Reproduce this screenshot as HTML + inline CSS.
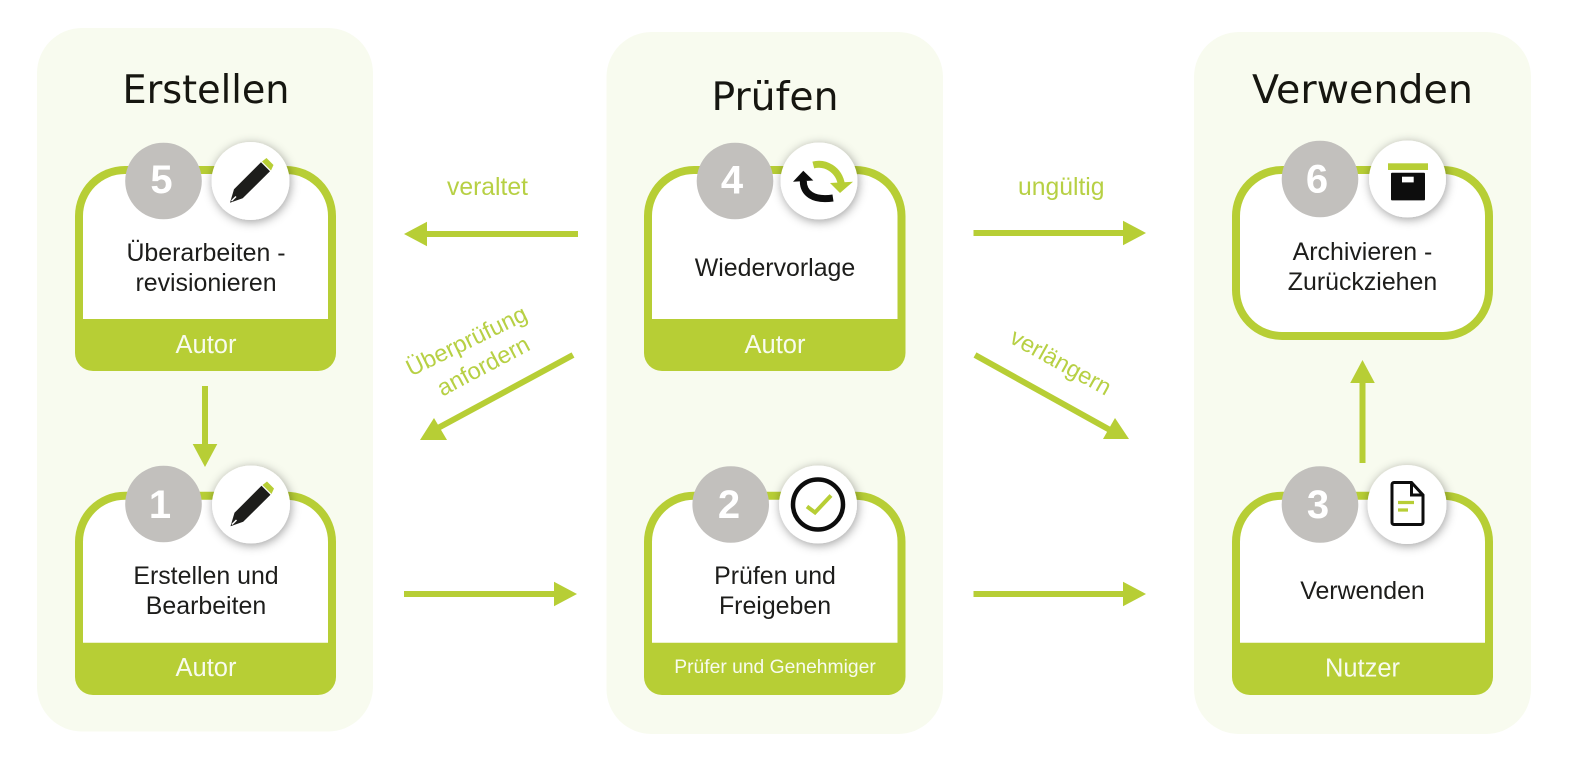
<!DOCTYPE html>
<html><head><meta charset="utf-8"><style>
html,body{margin:0;padding:0;background:#fff;width:1575px;height:763px;overflow:hidden}
svg{display:block}
text{font-family:"Liberation Sans",sans-serif}
.t{font-size:24.9px;fill:#1d1d1b;text-anchor:middle}
.f{font-size:25.5px;fill:#f8fbef;text-anchor:middle}
.g{font-size:24.7px;fill:#b7d044;text-anchor:middle}
.r{font-size:23.6px;fill:#b7d044;text-anchor:middle}
.h{font-family:"DejaVu Sans",sans-serif;font-size:39px;fill:#161610;text-anchor:start}
.n{font-weight:bold;font-size:40px;fill:#fff;text-anchor:middle}
</style></head><body>
<svg width="1575" height="763" viewBox="0 0 1575 763" xmlns="http://www.w3.org/2000/svg">
<defs>
<filter id="s" x="-40%" y="-40%" width="180%" height="180%"><feDropShadow dx="1" dy="2" stdDeviation="5" flood-color="#000" flood-opacity=".38"/></filter>
<g id="pencil">
<path d="M-20.5,21.7 L-16.5,8.3 L10.5,-18.7 L19.5,-9.7 L-7.8,17.3 Z" fill="#1d1d1b"/>
<path d="M11.5,-19.5 L16,-23 L23,-16 L20.5,-10.5 Z" fill="#b7ce35"/>
<path d="M-19,20 L-14.500,15.500" stroke="#fff" stroke-width="1.500"/>
</g>
</defs>
<rect width="1575" height="763" fill="#fff"/>
<rect x="37" y="28" width="336" height="703.5" rx="45" fill="#f8fbef"/>
<rect x="606.5" y="32" width="336.5" height="702" rx="45" fill="#f8fbef"/>
<rect x="1194" y="32" width="337" height="702" rx="45" fill="#f8fbef"/>

<text class="h" x="122.5" y="103" textLength="167" lengthAdjust="spacingAndGlyphs">Erstellen</text>
<text class="h" x="711.5" y="110" textLength="127" lengthAdjust="spacingAndGlyphs">Prüfen</text>
<text class="h" x="1252" y="103" textLength="221" lengthAdjust="spacingAndGlyphs">Verwenden</text>

<!-- Card 5 -->
<path d="M75,319 V216 A50,50 0 0 1 125,166 H286 A50,50 0 0 1 336,216 V319 Z" fill="#b7ce35"/>
<path d="M83,319 V216 A42,42 0 0 1 125,174 H286 A42,42 0 0 1 328,216 V319 Z" fill="#fff"/>
<path d="M75,319 H336 V353 A18,18 0 0 1 318,371 H93 A18,18 0 0 1 75,353 Z" fill="#b7ce35"/>
<!-- Card 4 -->
<path d="M644,319 V216 A50,50 0 0 1 694,166 H855.500 A50,50 0 0 1 905.500,216 V319 Z" fill="#b7ce35"/>
<path d="M652,319 V216 A42,42 0 0 1 694,174 H855.500 A42,42 0 0 1 897.500,216 V319 Z" fill="#fff"/>
<path d="M644,319 H905.500 V353 A18,18 0 0 1 887.500,371 H662 A18,18 0 0 1 644,353 Z" fill="#b7ce35"/>
<!-- Card 6 -->
<rect x="1236" y="170" width="253" height="166" rx="46" fill="#fff" stroke="#b7ce35" stroke-width="8"/>
<!-- Card 1 -->
<path d="M75,643 V541.700 A50,50 0 0 1 125,491.700 H286 A50,50 0 0 1 336,541.700 V643 Z" fill="#b7ce35"/>
<path d="M83,643 V541.700 A42,42 0 0 1 125,499.700 H286 A42,42 0 0 1 328,541.700 V643 Z" fill="#fff"/>
<path d="M75,642.700 H336 V677 A18,18 0 0 1 318,695 H93 A18,18 0 0 1 75,677 Z" fill="#b7ce35"/>
<!-- Card 2 -->
<path d="M644,643 V541.700 A50,50 0 0 1 694,491.700 H855.500 A50,50 0 0 1 905.500,541.700 V643 Z" fill="#b7ce35"/>
<path d="M652,643 V541.700 A42,42 0 0 1 694,499.700 H855.500 A42,42 0 0 1 897.500,541.700 V643 Z" fill="#fff"/>
<path d="M644,642.700 H905.500 V677 A18,18 0 0 1 887.500,695 H662 A18,18 0 0 1 644,677 Z" fill="#b7ce35"/>
<!-- Card 3 -->
<path d="M1232,643 V541.700 A50,50 0 0 1 1282,491.700 H1443 A50,50 0 0 1 1493,541.700 V643 Z" fill="#b7ce35"/>
<path d="M1240,643 V541.700 A42,42 0 0 1 1282,499.700 H1443 A42,42 0 0 1 1485,541.700 V643 Z" fill="#fff"/>
<path d="M1232,642.700 H1493 V677 A18,18 0 0 1 1475,695 H1250 A18,18 0 0 1 1232,677 Z" fill="#b7ce35"/>

<!-- gray circles -->
<g fill="#c2c0bd">
<circle cx="163.500" cy="181" r="38.300"/><circle cx="735" cy="181" r="38.300"/><circle cx="1320" cy="179" r="38.300"/>
<circle cx="163.500" cy="504" r="38.300"/><circle cx="730.700" cy="504.500" r="38.300"/><circle cx="1320" cy="504.500" r="38.300"/>
</g>
<text class="n" x="161.500" y="193">5</text>
<text class="n" x="732" y="193.500">4</text>
<text class="n" x="1317" y="192.500">6</text>
<text class="n" x="160" y="518">1</text>
<text class="n" x="729" y="518">2</text>
<text class="n" x="1318" y="518">3</text>

<!-- white circles -->
<g fill="#fff" filter="url(#s)">
<circle cx="250.500" cy="181" r="39"/><circle cx="819" cy="181" r="38.500"/><circle cx="1407.500" cy="179" r="38.500"/>
<circle cx="251" cy="504.500" r="39"/><circle cx="818" cy="504.500" r="39"/><circle cx="1407" cy="504.500" r="39.500"/>
</g>

<use href="#pencil" transform="translate(250.500,181)"/>
<use href="#pencil" transform="translate(251,504.500)"/>

<!-- refresh -->
<g transform="translate(819,181)">
<path d="M-5.700,-16 C6,-19 20,-12 22.500,4" fill="none" stroke="#b7ce35" stroke-width="7"/>
<path d="M11,2 L34,0.700 L21,12 Z" fill="#b7ce35"/>
<path d="M-15.700,0 C-15.700,12 -6,20 14,17" fill="none" stroke="#0d0d0d" stroke-width="7"/>
<path d="M-26,0.700 L-15.700,-10.300 L-5.700,-0.500 Z" fill="#0d0d0d"/>
</g>
<!-- box -->
<g transform="translate(1407.500,179)">
<rect x="-19.500" y="-15.700" width="40" height="6.700" fill="#b7ce35"/>
<rect x="-16.500" y="-6.300" width="34" height="27.700" rx="1" fill="#0d0d0d"/>
<rect x="-5.500" y="-2.300" width="11.700" height="5.700" fill="#fff"/>
</g>
<!-- check -->
<g transform="translate(818,504.500)">
<circle r="25" fill="none" stroke="#0d0d0d" stroke-width="4.500"/>
<path d="M-11,2 L-3,8 L13,-9" fill="none" stroke="#b7ce35" stroke-width="4"/>
</g>
<!-- doc -->
<g transform="translate(1407,504.500)">
<path d="M-13,-22 H4.500 L16,-9.500 V18 A2,2 0 0 1 14,20 H-13 A2,2 0 0 1 -15,18 V-20 A2,2 0 0 1 -13,-22 Z" fill="#fff" stroke="#0d0d0d" stroke-width="3"/>
<path d="M4.500,-22 V-9.500 H16" fill="none" stroke="#0d0d0d" stroke-width="3"/>
<path d="M-9,-2 H7 M-9,5.500 H1" stroke="#b7ce35" stroke-width="3.200" fill="none"/>
</g>

<!-- card text -->
<text class="t" x="206" y="261">Überarbeiten -</text>
<text class="t" x="206" y="291">revisionieren</text>
<text class="f" x="206" y="353">Autor</text>
<text class="t" x="775" y="276">Wiedervorlage</text>
<text class="f" x="775" y="353">Autor</text>
<text class="t" x="1362.500" y="260">Archivieren -</text>
<text class="t" x="1362.500" y="290">Zurückziehen</text>
<text class="t" x="206" y="584">Erstellen und</text>
<text class="t" x="206" y="614">Bearbeiten</text>
<text class="f" x="206" y="676">Autor</text>
<text class="t" x="775" y="584">Prüfen und</text>
<text class="t" x="775" y="614">Freigeben</text>
<text x="775" y="673" style="font-size:19.300px;fill:#f8fbef;text-anchor:middle">Prüfer und Genehmiger</text>
<text class="t" x="1362.500" y="599">Verwenden</text>
<text class="f" x="1362.500" y="676.500">Nutzer</text>

<!-- arrows -->
<g stroke="#b7ce35" stroke-width="6" fill="none">
<path d="M578,234 H425"/>
<path d="M973.500,233 H1125"/>
<path d="M404,594 H556"/>
<path d="M973.500,594 H1125"/>
<path d="M205,386 V446"/>
<path d="M1362.500,463 V381"/>
<path d="M573,355 L438,428"/>
<path d="M975,355 L1110,430"/>
</g>
<g fill="#b7ce35">
<path d="M404,234 L427,221.700 V246.300 Z"/>
<path d="M1146,233 L1123,220.700 V245.300 Z"/>
<path d="M577,594 L554,581.700 V606.300 Z"/>
<path d="M1146,594 L1123,581.700 V606.300 Z"/>
<path d="M205,467 L192.700,444 H217.300 Z"/>
<path d="M1362.500,360 L1350.200,383 H1374.800 Z"/>
<path d="M420,440 L434,418 L447,440 Z"/>
<path d="M1103,439 L1115,418 L1129,439 Z"/>
</g>

<!-- labels -->
<text class="g" x="487.500" y="195">veraltet</text>
<text class="g" x="1061.300" y="195">ungültig</text>
<text class="r" transform="translate(470,348) rotate(-26)" x="0" y="0">Überprüfung</text>
<text class="r" transform="translate(487,373) rotate(-28)" x="0" y="0">anfordern</text>
<text class="r" transform="translate(1057,369) rotate(29)" x="0" y="0">verlängern</text>
</svg>
</body></html>
